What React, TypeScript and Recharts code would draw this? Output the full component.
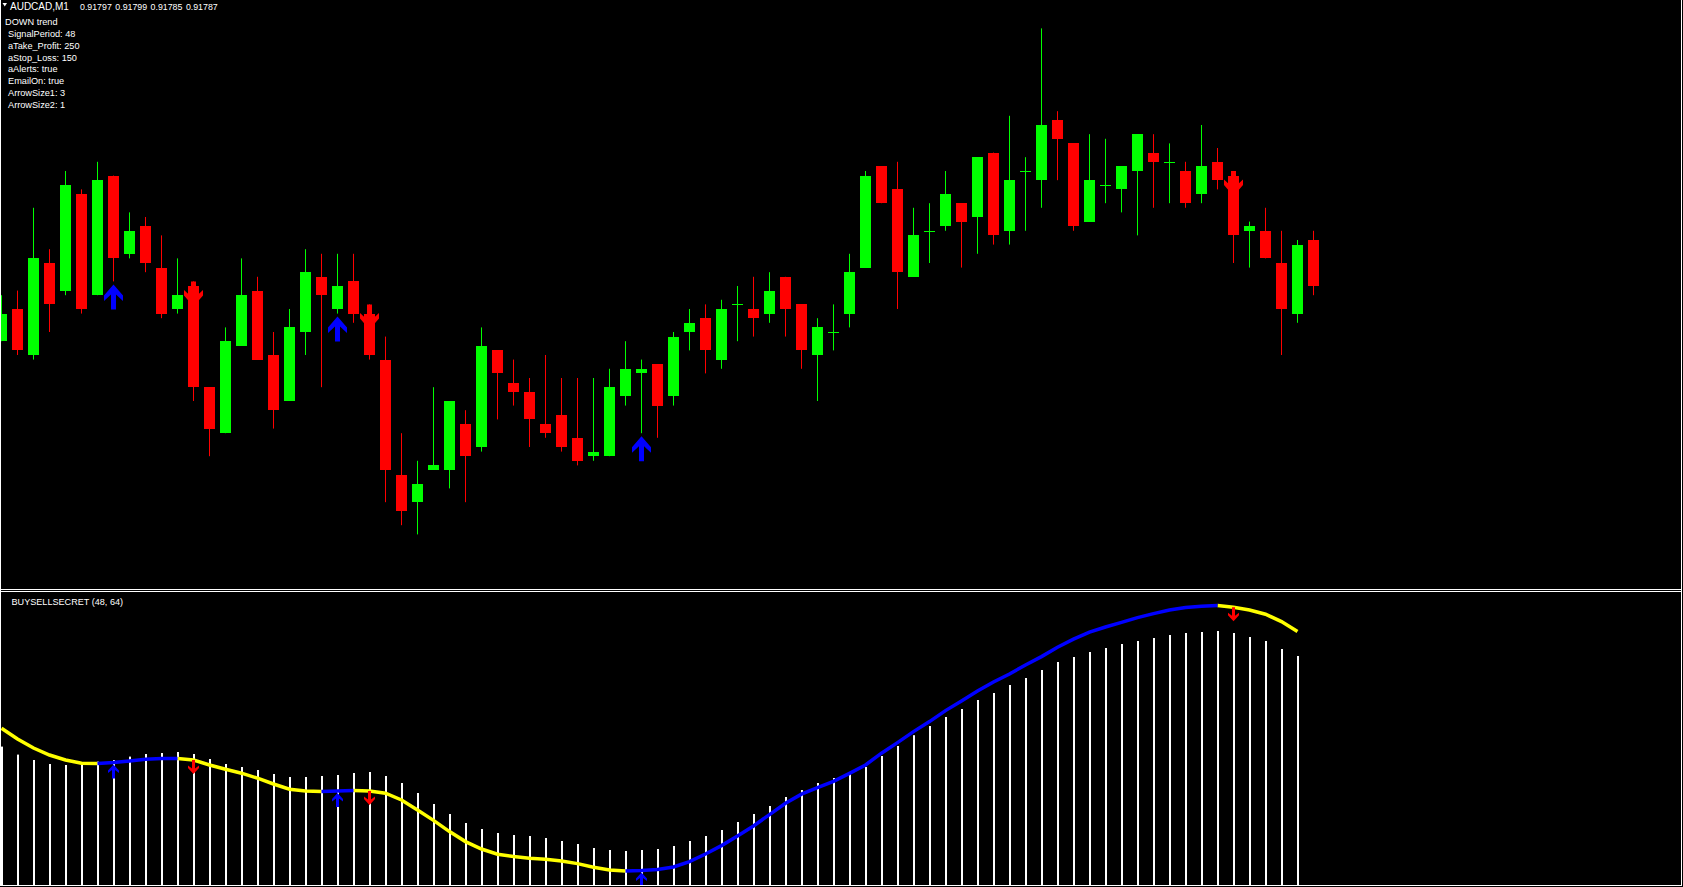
import React from "react";
import { ComposedChart, Bar, Line, Scatter, XAxis, YAxis } from "recharts";

// AUDCAD M1 candles (price)
const OPEN = [
  0.91775, 0.91782, 0.91772, 0.91792, 0.91786, 0.91807, 0.91785, 0.91811, 0.91794, 0.918, 0.91791, 0.91782,
  0.91787, 0.91765, 0.91755, 0.91774, 0.91786, 0.91772, 0.91762, 0.91777, 0.91789, 0.91782, 0.91788, 0.91781,
  0.91771, 0.91746, 0.9174, 0.91747, 0.91747, 0.91757, 0.91752, 0.91773, 0.91766, 0.91764, 0.91757, 0.91759,
  0.91754, 0.9175, 0.9175, 0.91763, 0.91768, 0.9177, 0.91763, 0.91777, 0.9178, 0.91771, 0.91783, 0.91782,
  0.91781, 0.91789, 0.91783, 0.91772, 0.91777, 0.91781, 0.91791, 0.91813, 0.91808, 0.91789, 0.91799, 0.918,
  0.91805, 0.91802, 0.91816, 0.91799, 0.91812, 0.9181, 0.91823, 0.91818, 0.91801, 0.91809, 0.91808, 0.91812,
  0.91816, 0.91814, 0.91812, 0.91807, 0.91814, 0.91811, 0.91799, 0.91799, 0.91792, 0.91781, 0.91797,
];
const HIGH = [
  0.91785, 0.91786, 0.91804, 0.91795, 0.91812, 0.91808, 0.91814, 0.91811, 0.91803, 0.91802, 0.91798, 0.91793,
  0.91788, 0.91765, 0.91778, 0.91793, 0.91789, 0.91777, 0.91782, 0.91795, 0.91794, 0.91794, 0.91794, 0.91783,
  0.91776, 0.91755, 0.91749, 0.91765, 0.91762, 0.9176, 0.91778, 0.91773, 0.91771, 0.91767, 0.91772, 0.91767,
  0.91767, 0.91767, 0.91769, 0.91775, 0.91771, 0.9177, 0.91777, 0.91782, 0.91783, 0.91784, 0.91787, 0.91789,
  0.9179, 0.91789, 0.91783, 0.9178, 0.91783, 0.91794, 0.91812, 0.91813, 0.91814, 0.91804, 0.91805, 0.91812,
  0.91805, 0.91815, 0.91816, 0.91824, 0.91815, 0.91843, 0.91825, 0.91818, 0.9182, 0.91819, 0.91813, 0.9182,
  0.9182, 0.91818, 0.91814, 0.91822, 0.91817, 0.91812, 0.91801, 0.91804, 0.91799, 0.91797, 0.91799,
];
const LOW = [
  0.91775, 0.91772, 0.91771, 0.91777, 0.91785, 0.91781, 0.91785, 0.91788, 0.91793, 0.9179, 0.9178, 0.91781,
  0.91762, 0.9175, 0.91755, 0.91774, 0.91771, 0.91756, 0.91762, 0.91772, 0.91765, 0.91781, 0.91779, 0.91771,
  0.9174, 0.91735, 0.91733, 0.91747, 0.91743, 0.9174, 0.91751, 0.91758, 0.91761, 0.91752, 0.91754, 0.91751,
  0.91748, 0.91749, 0.9175, 0.91761, 0.91755, 0.91754, 0.91761, 0.91773, 0.91768, 0.91769, 0.91775, 0.91776,
  0.91779, 0.91776, 0.91769, 0.91762, 0.91773, 0.91778, 0.91791, 0.91805, 0.91782, 0.91789, 0.91792, 0.91799,
  0.91791, 0.91794, 0.91796, 0.91796, 0.91799, 0.91804, 0.9181, 0.91799, 0.91801, 0.91805, 0.91803, 0.91798,
  0.91804, 0.91805, 0.91804, 0.91805, 0.91808, 0.91792, 0.91791, 0.91793, 0.91772, 0.91779, 0.91785,
];
const CLOSE = [
  0.91781, 0.91773, 0.91793, 0.91783, 0.91809, 0.91782, 0.9181, 0.91793, 0.91799, 0.91792, 0.91781, 0.91785,
  0.91765, 0.91756, 0.91775, 0.91785, 0.91771, 0.9176, 0.91778, 0.9179, 0.91785, 0.91787, 0.91781, 0.91772,
  0.91747, 0.91738, 0.91744, 0.91748, 0.91762, 0.9175, 0.91774, 0.91768, 0.91764, 0.91758, 0.91755, 0.91752,
  0.91749, 0.91751, 0.91765, 0.91769, 0.91769, 0.91761, 0.91776, 0.91779, 0.91773, 0.91782, 0.91783, 0.9178,
  0.91786, 0.91782, 0.91773, 0.91778, 0.91777, 0.9179, 0.91811, 0.91805, 0.9179, 0.91798, 0.91799, 0.91807,
  0.91801, 0.91815, 0.91798, 0.9181, 0.91812, 0.91822, 0.91819, 0.918, 0.9181, 0.91809, 0.91813, 0.9182,
  0.91814, 0.91814, 0.91805, 0.91813, 0.9181, 0.91798, 0.918, 0.91793, 0.91782, 0.91796, 0.91787,
];

// signal arrows (bar index)
const BUY_BARS = [7, 21, 40];
const SELL_BARS = [12, 23, 77];

// BUYSELLSECRET (48, 64) sub-window
const HIST = [
  69.2, 65.2, 62.5, 60.5, 60.0, 60.9, 61.7, 62.5, 64.2, 65.5, 66.0, 66.5, 65.5, 63.0, 60.5, 59.0, 57.5,
  55.5, 54.0, 54.0, 54.5, 55.0, 56.0, 56.5, 54.5, 51.0, 46.0, 40.5, 35.5, 31.0, 28.0, 26.0, 25.0, 24.5,
  23.5, 22.0, 20.5, 18.5, 17.5, 17.0, 17.5, 18.0, 19.5, 22.0, 24.5, 27.5, 31.5, 35.5, 39.5, 44.0, 47.5,
  51.0, 53.5, 56.5, 59.0, 64.5, 69.5, 74.9, 79.5, 84.0, 88.0, 92.5, 96.0, 100.0, 103.5, 107.5, 111.5,
  114.0, 116.5, 118.5, 120.5, 122.0, 123.5, 125.0, 126.0, 126.5, 127.0, 126.0, 124.0, 122.0, 118.0, 114.5,
];
const SIGNAL = [
  78.4, 73.0, 68.5, 65.0, 62.5, 60.9, 60.7, 61.2, 62.0, 62.9, 63.2, 63.2, 62.5, 60.0, 57.9, 55.9, 53.4,
  50.5, 47.9, 47.0, 46.7, 47.0, 47.2, 47.0, 45.9, 42.5, 37.5, 32.3, 26.7, 21.7, 18.0, 15.4, 14.2, 13.4,
  12.9, 12.0, 10.7, 8.9, 7.5, 7.0, 7.2, 7.7, 9.0, 11.7, 15.5, 19.7, 24.5, 29.5, 35.2, 40.9, 45.4,
  48.7, 51.8, 55.8, 60.0, 65.9, 71.2, 76.7, 81.7, 87.2, 92.0, 97.0, 101.5, 105.5, 110.0, 114.2, 118.9,
  122.9, 126.4, 129.0, 131.3, 133.7, 135.7, 137.5, 138.7, 139.4, 139.7, 138.9, 137.5, 135.4, 131.7, 126.7,
];
const BLUE_RANGES = [
  [6, 11],
  [20, 22],
  [39, 76],
];

const HEADER_SYMBOL = "AUDCAD,M1";
const HEADER_PRICES = ["0.91797", "0.91799", "0.91785", "0.91787"];
const INFO_LINES = [
  "DOWN trend",
  "SignalPeriod: 48",
  "aTake_Profit: 250",
  "aStop_Loss: 150",
  "aAlerts: true",
  "EmailOn: true",
  "ArrowSize1: 3",
  "ArrowSize2: 1",
];
const SUB_LABEL = "BUYSELLSECRET (48, 64)";

const W = 1683;
const H = 887;
const TOP_H = 589;
const SUB_TOP = 592;
const SUB_H = 293;
const BULL = "#00FF00";
const BEAR = "#FF0000";
const FONT = "'Liberation Sans', Arial, sans-serif";

const X_DOMAIN = [-0.09375, 105.09375];
const PRICE_DOMAIN = [0.9172113, 0.9184917];
const SUB_DOMAIN = [0, 146.5];

const candles = OPEN.map((o, i) => ({
  i,
  o,
  h: HIGH[i],
  l: LOW[i],
  c: CLOSE[i],
  range: [LOW[i], HIGH[i]],
}));
const buyPoints = BUY_BARS.map((i) => ({ i, v: LOW[i] }));
const sellPoints = SELL_BARS.map((i) => ({ i, v: HIGH[i] }));

const inBlue = (i: number) => BLUE_RANGES.some(([s, e]) => i >= s && i <= e);
const insideBlue = (i: number) => BLUE_RANGES.some(([s, e]) => i > s && i < e);
const subData = SIGNAL.map((v, i) => ({
  i,
  hist: HIST[i],
  blue: inBlue(i) ? v : null,
  yellow: insideBlue(i) ? null : v,
}));
const subBuy = BUY_BARS.map((i) => ({ i, v: SIGNAL[i] }));
const subSell = SELL_BARS.map((i) => ({ i, v: SIGNAL[i] }));

function Candle(props: any) {
  const { x, y, width, height, payload } = props;
  if (x == null || !payload) return null;
  const { o, h, l, c } = payload;
  const cx = Math.floor(x + width / 2) + 0.5;
  const py = (v: number) => y + ((h - v) / (h - l)) * height;
  const color = c >= o ? BULL : BEAR;
  const top = Math.round(py(Math.max(o, c)));
  const bot = Math.round(py(Math.min(o, c)));
  return (
    <g>
      <line x1={cx} x2={cx} y1={y} y2={y + height} stroke={color} strokeWidth={1} />
      <rect x={cx - 5.5} y={top} width={11} height={Math.max(1, bot - top)} fill={color} />
    </g>
  );
}

function HistBar(props: any) {
  const { x, y, width, height } = props;
  if (x == null) return null;
  const cx = Math.floor(x + width / 2);
  return <rect x={cx} y={y} width={2} height={height} fill="#FFFFFF" />;
}

const pts = (cx: number, cy: number, list: number[][]) =>
  list.map(([dx, dy]) => `${cx + dx},${cy + dy}`).join(" ");

const BIG_UP = [[0, 0], [9.5, 11], [9.5, 16.5], [2.5, 10], [2.5, 25], [-2.5, 25], [-2.5, 10], [-9.5, 16.5], [-9.5, 11]];
const BIG_DOWN = [[-2.5, 0], [2.5, 0], [2.5, 15], [9.5, 8.5], [9.5, 14], [0, 25], [-9.5, 14], [-9.5, 8.5], [-2.5, 15]];
const SMALL_UP = [[0, 0], [5.5, 6], [5.5, 8.5], [1.5, 5.5], [1.5, 14], [-1.5, 14], [-1.5, 5.5], [-5.5, 8.5], [-5.5, 6]];
const SMALL_DOWN = [[-1.5, 0], [1.5, 0], [1.5, 8.5], [5.5, 5.5], [5.5, 8], [0, 14], [-5.5, 8], [-5.5, 5.5], [-1.5, 8.5]];

export default function App() {
  return (
    <div
      style={{
        position: "absolute",
        left: 0,
        top: 0,
        width: W,
        height: H,
        background: "#000000",
        overflow: "hidden",
      }}
    >
      {/* price window */}
      <div style={{ position: "absolute", left: 0, top: 0 }}>
        <ComposedChart width={W} height={TOP_H} data={candles} margin={{ top: 0, right: 0, bottom: 0, left: 0 }}>
          <XAxis dataKey="i" type="number" domain={X_DOMAIN} allowDataOverflow hide />
          <YAxis type="number" domain={PRICE_DOMAIN} allowDataOverflow hide />
          <Bar dataKey="range" barSize={11} isAnimationActive={false} shape={(p: any) => <Candle {...p} />} />
          <Scatter
            data={sellPoints}
            dataKey="v"
            isAnimationActive={false}
            shape={(p: any) => <polygon points={pts(p.cx, p.cy, BIG_DOWN)} fill={BEAR} />}
          />
          <Scatter
            data={buyPoints}
            dataKey="v"
            isAnimationActive={false}
            shape={(p: any) => <polygon points={pts(p.cx, p.cy + 3, BIG_UP)} fill="#0000FF" />}
          />
        </ComposedChart>
      </div>

      {/* indicator window */}
      <div style={{ position: "absolute", left: 0, top: SUB_TOP }}>
        <ComposedChart width={W} height={SUB_H} data={subData} margin={{ top: 0, right: 0, bottom: 0, left: 0 }}>
          <XAxis dataKey="i" type="number" domain={X_DOMAIN} allowDataOverflow hide />
          <YAxis type="number" domain={SUB_DOMAIN} allowDataOverflow hide />
          <Bar dataKey="hist" barSize={2} isAnimationActive={false} shape={(p: any) => <HistBar {...p} />} />
          <Line
            dataKey="yellow"
            type="linear"
            stroke="#FFFF00"
            strokeWidth={3.5}
            dot={false}
            activeDot={false}
            connectNulls={false}
            isAnimationActive={false}
          />
          <Line
            dataKey="blue"
            type="linear"
            stroke="#0000FF"
            strokeWidth={3.5}
            dot={false}
            activeDot={false}
            connectNulls={false}
            isAnimationActive={false}
          />
          <Scatter
            data={subBuy}
            dataKey="v"
            isAnimationActive={false}
            shape={(p: any) => <polygon points={pts(p.cx, p.cy + 2, SMALL_UP)} fill="#0000FF" />}
          />
          <Scatter
            data={subSell}
            dataKey="v"
            isAnimationActive={false}
            shape={(p: any) => <polygon points={pts(p.cx, p.cy, SMALL_DOWN)} fill={BEAR} />}
          />
        </ComposedChart>
      </div>

      {/* frame and labels */}
      <svg width={W} height={H} style={{ position: "absolute", left: 0, top: 0, pointerEvents: "none" }}>
        <g stroke="#FFFFFF" strokeWidth={1} shapeRendering="crispEdges">
          <line x1={0} x2={1682} y1={589.5} y2={589.5} />
          <line x1={0} x2={1682} y1={591.5} y2={591.5} />
          <line x1={0} x2={1682} y1={885.5} y2={885.5} />
          <line x1={0.5} x2={0.5} y1={0} y2={886} />
          <line x1={1681.5} x2={1681.5} y1={0} y2={886} />
        </g>
        <polygon points="2.5,3 7,3 4.75,6.5" fill="#FFFFFF" />
        <g fontFamily={FONT} fill="#FFFFFF">
          <text x={10} y={9.5} fontSize={10}>
            {HEADER_SYMBOL}
          </text>
          {HEADER_PRICES.map((p, n) => (
            <text key={p + n} x={80 + n * 35.3} y={9.5} fontSize={8.8}>
              {p}
            </text>
          ))}
        </g>
        <g fontFamily={FONT} fill="#FFFFFF" fontSize={9.2}>
          {INFO_LINES.map((t, n) => (
            <text key={t} x={n === 0 ? 5 : 8} y={25.3 + n * 11.75}>
              {t}
            </text>
          ))}
        </g>
        <text x={11.5} y={605} fontFamily={FONT} fontSize={9.1} fill="#FFFFFF">
          {SUB_LABEL}
        </text>
      </svg>
    </div>
  );
}
